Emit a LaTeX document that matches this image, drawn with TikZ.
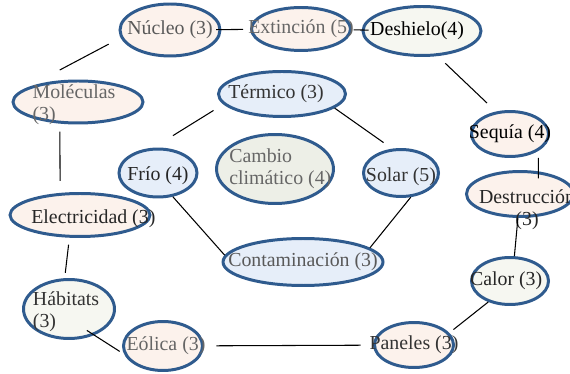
\documentclass[tikz,border=0pt]{standalone}
\usepackage{fontspec}
\setmainfont{Liberation Serif}
\usetikzlibrary{shapes.geometric}
\definecolor{rim}{HTML}{2F5B8E}
\definecolor{peach}{HTML}{FCF2EC}
\definecolor{sky}{HTML}{E6EEF9}
\definecolor{sage}{HTML}{F6F7F1}
\definecolor{moss}{HTML}{EDEFE7}

\begin{document}
\begin{tikzpicture}[x = 0.02cm, y = -0.02cm, font = {\fontsize{11.3pt}{12.5}\selectfont},
	bub/.style = {ellipse, draw = rim, line width = 1.7pt, inner sep = 0pt},
	txt/.style = {inner sep = 0pt, align = center},
	link/.style = {line width = 0.6pt}]
\useasboundingbox (0, 0) rectangle (570, 374);

% outer ring
\node[bub, fill = peach, minimum width = 2.0cm, minimum height = 1.04cm, label = {[txt, text = black!65]center:Núcleo (3)}] (NUC) at (170, 30) {};
\node[bub, fill = peach, minimum width = 1.98cm, minimum height = 0.86cm, label = {[txt, text = black!60]center:Extinción (5)}] (EXT) at (301, 29) {};
\node[bub, fill = sage, minimum width = 2.36cm, minimum height = 0.98cm, label = {[txt, xshift = -2.8pt]center:Deshielo(4)}] (DES) at (422, 31) {};
\node[bub, fill = peach, minimum width = 2.6cm, minimum height = 0.84cm, label = {[txt, align = left, text = black!60, xshift = -2.3pt, yshift = -1.7pt]center:Moléculas\\(3)}] (MOL) at (78, 102) {};
\node[bub, fill = peach, minimum width = 1.54cm, minimum height = 0.9cm, label = {[txt]center:Sequía (4)}] (SEQ) at (510, 134) {};
\node[bub, fill = peach, minimum width = 2.14cm, minimum height = 0.9cm, label = {[txt, text = black!85, xshift = 4pt, yshift = -9pt]center:Destrucción\\(3)}] (DST) at (520, 194) {};
\node[bub, fill = peach, minimum width = 2.8cm, minimum height = 0.86cm, label = {[txt, text = black!85, xshift = 7.6pt, yshift = -2.2pt]center:Electricidad (3)}] (ELE) at (80, 215) {};
\node[bub, fill = sage, minimum width = 1.82cm, minimum height = 1.18cm, label = {[txt, align = left, text = black!80, xshift = -1.7pt, yshift = -1.7pt]center:Hábitats\\(3)}] (HAB) at (69, 309) {};
\node[bub, fill = sage, minimum width = 1.54cm, minimum height = 0.94cm, label = {[txt, text = black!85, xshift = -2.2pt]center:Calor (3)}] (CAL) at (510, 281) {};
\node[bub, fill = peach, minimum width = 1.58cm, minimum height = 0.98cm, label = {[txt, text = black!60, xshift = 1.7pt]center:Eólica (3)}] (EOL) at (163, 346) {};
\node[bub, fill = peach, minimum width = 1.58cm, minimum height = 0.9cm, label = {[txt, text = black!80]center:Paneles (3)}] (PAN) at (414, 345) {};

% inner ring
\node[bub, fill = sky, minimum width = 2.54cm, minimum height = 0.9cm, label = {[txt, text = black!80, xshift = -3.4pt]center:Térmico (3)}] (TER) at (282, 94) {};
\node[bub, fill = sky, minimum width = 1.56cm, minimum height = 0.96cm, label = {[txt, text = black!85, yshift = -1.7pt]center:Frío (4)}] (FRI) at (158, 173) {};
\node[bub, fill = moss, minimum width = 2.34cm, minimum height = 1.38cm, label = {[txt, align = left, text = black!60, xshift = 3pt]center:Cambio\\climático (4)}] (CAM) at (275, 169) {};
\node[bub, fill = sky, minimum width = 1.5cm, minimum height = 0.94cm, label = {[txt, text = black!80, yshift = -2.2pt]center:Solar (5)}] (SOL) at (401, 173) {};
\node[bub, fill = sky, minimum width = 3.2cm, minimum height = 0.94cm, label = {[txt, text = black!65]center:Contaminación (3)}] (CON) at (303, 262) {};

\draw[link, shorten <= -3pt, shorten >= 4pt] (NUC) -- (EXT);
\draw[link, shorten <= 1pt, shorten >= -4pt] (EXT) -- (DES);
\draw[link, shorten <= 7.7pt, shorten >= 22.7pt] (NUC.189) -- (MOL.166);
\draw[link, shorten <= 4.5pt, shorten >= 6.8pt] (MOL.230) -- (ELE.132);
\draw[link, shorten <= 4pt, shorten >= 3pt] (ELE.245) -- (HAB.98);
\draw[link, shorten <= -5pt, shorten >= 3pt] (HAB.314) -- (EOL.192);
\draw[link, shorten <= 7pt, shorten >= 7pt] (EOL) -- (PAN);
\draw[link, shorten <= 3pt] (PAN.19) -- (CAL.224);
\draw[link] (CAL.80) -- (DST.265);
\draw[link, shorten <= 4pt, shorten >= -4pt] (SEQ.-31) -- (DST.51);
\draw[link, shorten <= 6pt, shorten >= 7pt] (DES.302) -- (SEQ.122);
\draw[link, shorten <= 6.6pt, shorten >= 13pt] (TER.190) -- (FRI.100);
\draw[link, shorten >= 6pt] (TER.345) -- (SOL.110);
\draw[link] (FRI.302) -- (CON.175);
\draw[link] (SOL.292) -- (CON.12);
\end{tikzpicture}
\end{document}
